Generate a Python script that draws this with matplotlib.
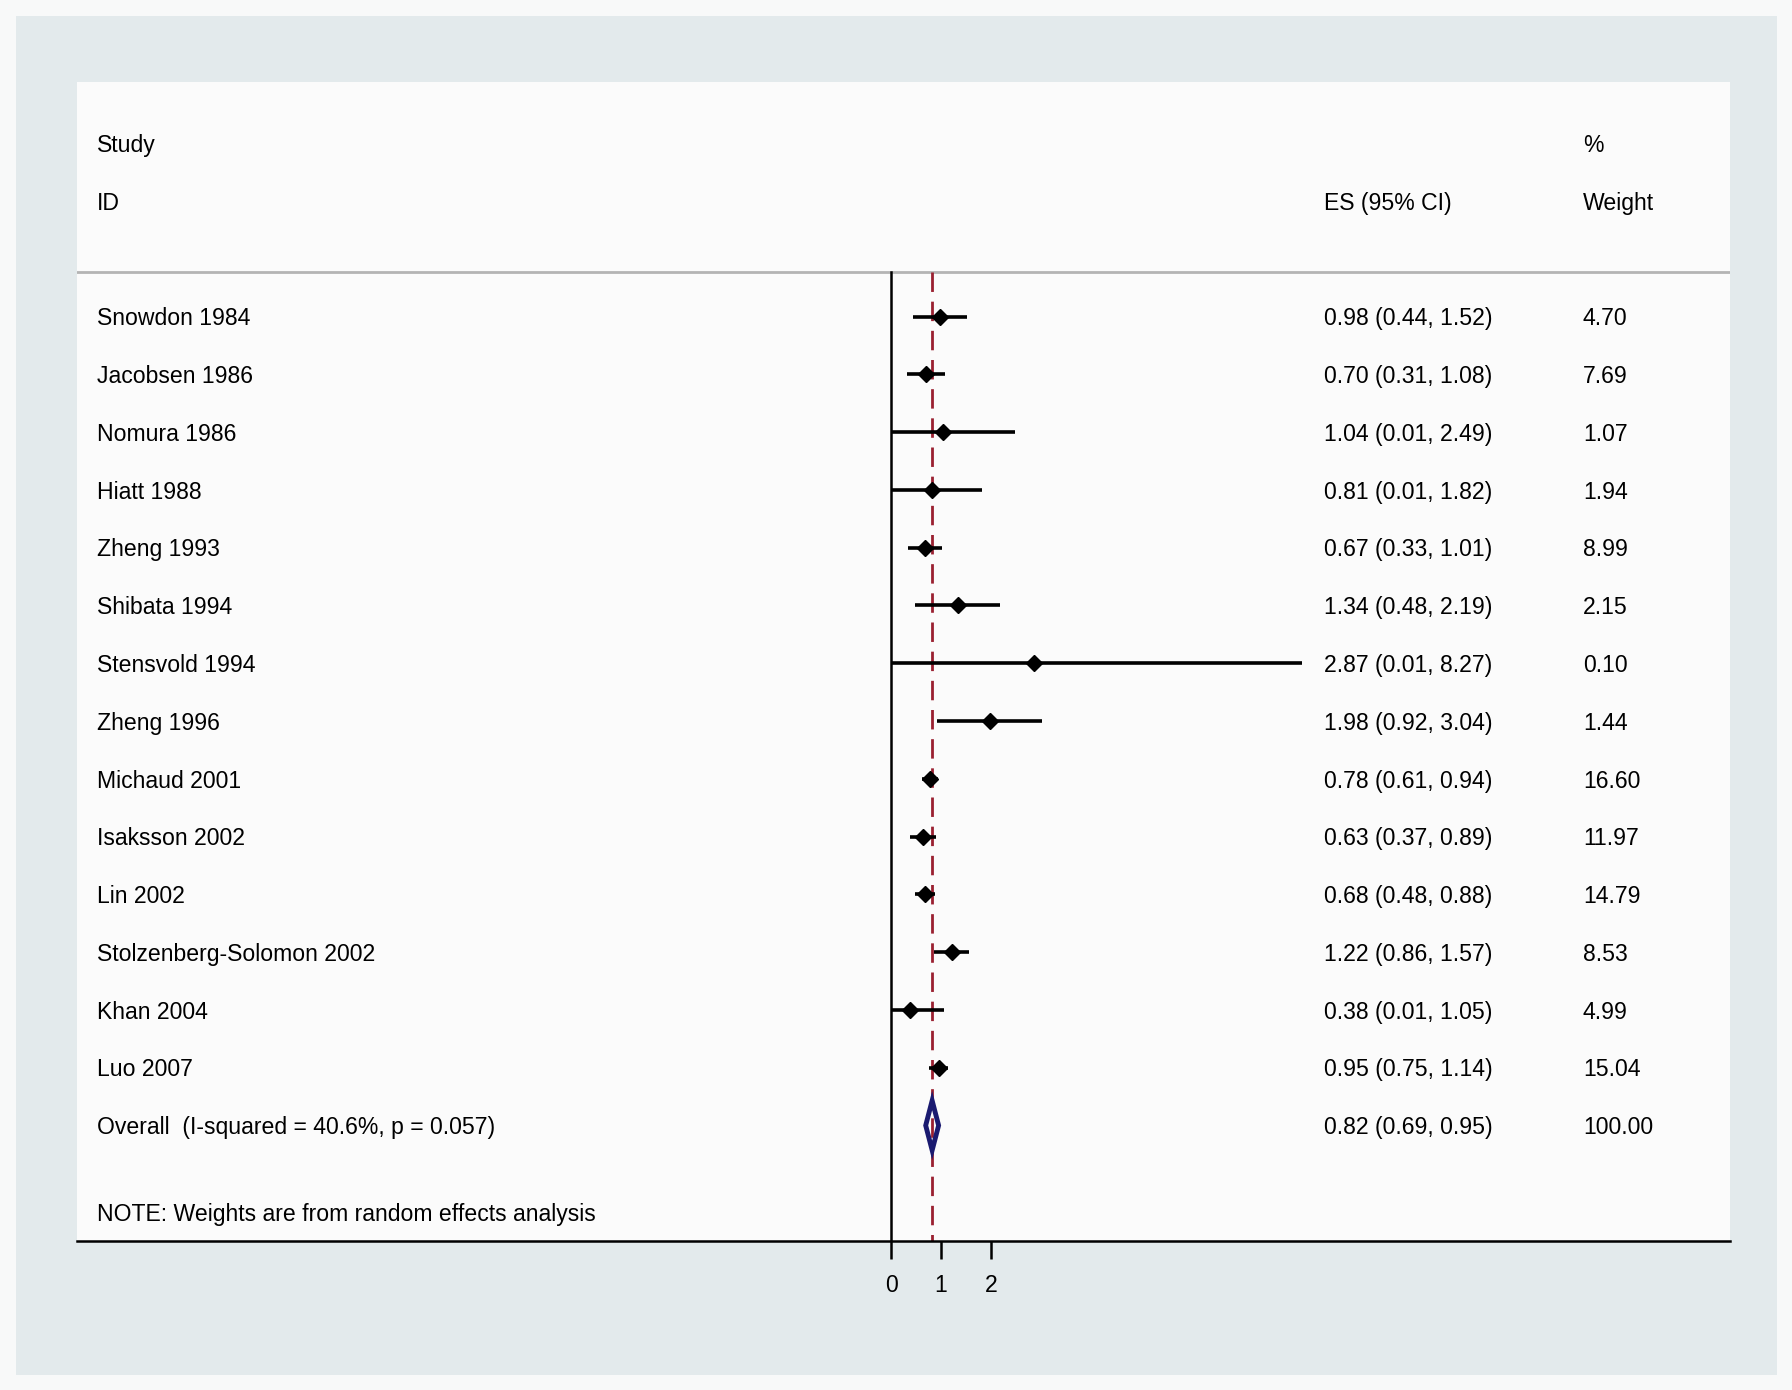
import matplotlib
matplotlib.use("Agg")
import matplotlib.pyplot as plt
from matplotlib.patches import Rectangle
import numpy as np

plt.rcParams['font.family'] = ['Liberation Sans', 'DejaVu Sans']

studies = ["Snowdon 1984", "Jacobsen 1986", "Nomura 1986", "Hiatt 1988",
           "Zheng 1993", "Shibata 1994", "Stensvold 1994", "Zheng 1996",
           "Michaud 2001", "Isaksson 2002", "Lin 2002",
           "Stolzenberg-Solomon 2002", "Khan 2004", "Luo 2007"]
es = [0.98, 0.70, 1.04, 0.81, 0.67, 1.34, 2.87, 1.98, 0.78, 0.63, 0.68, 1.22, 0.38, 0.95]
ci_low = [0.44, 0.31, 0.01, 0.01, 0.33, 0.48, 0.01, 0.92, 0.61, 0.37, 0.48, 0.86, 0.01, 0.75]
ci_high = [1.52, 1.08, 2.49, 1.82, 1.01, 2.19, 8.27, 3.04, 0.94, 0.89, 0.88, 1.57, 1.05, 1.14]
weights = [4.70, 7.69, 1.07, 1.94, 8.99, 2.15, 0.10, 1.44, 16.60, 11.97, 14.79, 8.53, 4.99, 15.04]

overall_label = "Overall  (I-squared = 40.6%, p = 0.057)"
overall = [0.82, 0.69, 0.95]
overall_weight = 100.00
note = "NOTE: Weights are from random effects analysis"
xticks = [0, 1, 2]

FS = 16.6
W, H = 1792, 1390


def draw():
    fig = plt.figure(figsize=(W / 100, H / 100), dpi=100)
    fig.patch.set_facecolor("#f8f9f9")
    fig.add_artist(Rectangle((16 / W, 1 - 1375 / H), (1777 - 16) / W, (1375 - 16) / H,
                             transform=fig.transFigure, facecolor="#e3eaec",
                             edgecolor="none", zorder=0))

    left, right, top, bottom = 77, 1730, 82, 1241
    ax = fig.add_axes([left / W, 1 - bottom / H, (right - left) / W, (bottom - top) / H])
    ax.set_facecolor("#fbfbfb")

    # x scale: 0 at px 891, ~49.7 px per unit
    x0, ppu = 891.4, 49.7
    ax.set_xlim((left - x0) / ppu, (right - x0) / ppu)
    ax.set_ylim(16, -4.06)

    n = len(studies)
    rows = np.arange(n)
    hdr = -0.77

    # reference lines
    ax.plot([0, 0], [hdr, 16], color="black", lw=1.8, zorder=2)
    ax.plot([overall[0], overall[0]], [hdr, 16], color="#9a2030", lw=2,
            dashes=(7, 3.5), zorder=2)
    ax.axhline(hdr, color="#b4b4b4", lw=2, zorder=1)

    # study estimates
    for i in rows:
        lo = max(ci_low[i], 0)
        ax.plot([lo, ci_high[i]], [i, i], color="black", lw=2.6,
                solid_capstyle="butt", zorder=3)
        ax.plot(es[i], i, marker="D", color="black", ms=8.5, zorder=4)

    # overall diamond
    est, lo, hi = overall
    ax.fill([lo, est, hi, est, lo], [n, n - 0.43, n, n + 0.43, n],
            facecolor="none", edgecolor="#1a1a70", lw=3.5, zorder=4)

    # text columns
    tr = ax.get_yaxis_transform()
    xl, xes, xw = 0.0121, 0.7544, 0.911
    dy = 0.04

    def put(x, y, s):
        ax.text(x, y + dy, s, transform=tr, fontsize=FS, va="center")

    put(xl, -3.0, "Study")
    put(xl, -2.0, "ID")
    put(xes, -2.0, "ES (95% CI)")
    put(xw, -3.0, "%")
    put(xw, -2.0, "Weight")
    for i in rows:
        put(xl, i, studies[i])
        put(xes, i, "%.2f (%.2f, %.2f)" % (es[i], ci_low[i], ci_high[i]))
        put(xw, i, "%.2f" % weights[i])
    put(xl, n, overall_label)
    put(xes, n, "%.2f (%.2f, %.2f)" % (est, lo, hi))
    put(xw, n, "%.2f" % overall_weight)
    put(xl, 15.5, note)

    # axes styling
    for s in ["top", "right", "left"]:
        ax.spines[s].set_visible(False)
    ax.spines["bottom"].set_linewidth(1.8)
    ax.set_yticks([])
    ax.set_xticks(xticks)
    ax.tick_params(axis="x", length=13, width=1.8, labelsize=FS, pad=11)

    fig.savefig("out.png", dpi=100, facecolor=fig.get_facecolor())


if __name__ == "__main__":
    draw()
